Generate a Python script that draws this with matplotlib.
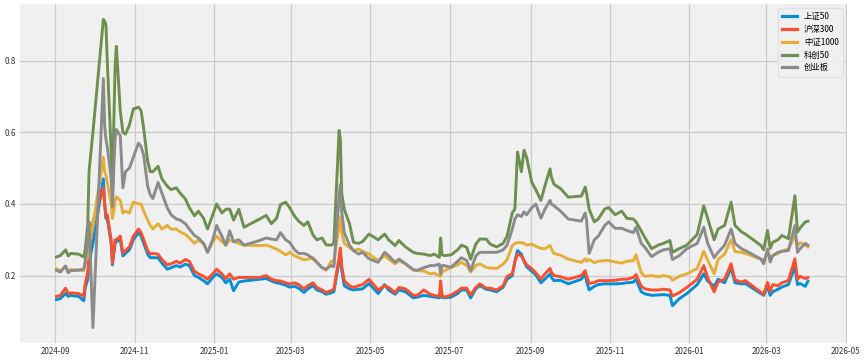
import matplotlib
matplotlib.use("Agg")
import matplotlib.pyplot as plt
import matplotlib.dates as mdates
from matplotlib.ticker import MultipleLocator
import pandas as pd

dates = [
    "2024-09-02", "2024-09-05", "2024-09-09", "2024-09-11", "2024-09-13", "2024-09-19", "2024-09-23", "2024-09-24", "2024-09-26", "2024-09-27", "2024-09-30",
    "2024-10-08", "2024-10-09", "2024-10-10", "2024-10-11", "2024-10-14", "2024-10-15", "2024-10-16", "2024-10-17", "2024-10-18", "2024-10-21", "2024-10-23", "2024-10-25", "2024-10-28", "2024-10-31",
    "2024-11-04", "2024-11-06", "2024-11-08", "2024-11-11", "2024-11-13", "2024-11-15", "2024-11-19", "2024-11-22", "2024-11-26", "2024-11-29",
    "2024-12-03", "2024-12-06", "2024-12-10", "2024-12-13", "2024-12-17", "2024-12-20", "2024-12-24", "2024-12-27", "2024-12-31",
    "2025-01-03", "2025-01-07", "2025-01-10", "2025-01-13", "2025-01-16", "2025-01-20", "2025-01-24",
    "2025-02-05", "2025-02-10", "2025-02-14", "2025-02-18", "2025-02-21", "2025-02-25", "2025-02-28",
    "2025-03-04", "2025-03-07", "2025-03-11", "2025-03-14", "2025-03-18", "2025-03-21", "2025-03-25", "2025-03-28",
    "2025-04-01", "2025-04-03", "2025-04-07", "2025-04-08", "2025-04-09", "2025-04-11", "2025-04-15", "2025-04-18", "2025-04-22", "2025-04-25", "2025-04-30",
    "2025-05-07", "2025-05-12", "2025-05-15", "2025-05-20", "2025-05-23", "2025-05-28",
    "2025-06-03", "2025-06-06", "2025-06-11", "2025-06-16", "2025-06-19", "2025-06-23", "2025-06-24", "2025-06-25", "2025-06-27",
    "2025-07-02", "2025-07-07", "2025-07-10", "2025-07-14", "2025-07-17", "2025-07-21", "2025-07-24", "2025-07-29",
    "2025-08-01", "2025-08-06", "2025-08-11", "2025-08-14", "2025-08-18", "2025-08-20", "2025-08-22", "2025-08-25", "2025-08-27", "2025-08-29",
    "2025-09-02", "2025-09-05", "2025-09-09", "2025-09-12", "2025-09-16", "2025-09-17", "2025-09-19", "2025-09-24", "2025-09-30",
    "2025-10-10", "2025-10-13", "2025-10-14", "2025-10-16", "2025-10-20", "2025-10-23", "2025-10-28", "2025-10-31",
    "2025-11-05", "2025-11-10", "2025-11-14", "2025-11-19", "2025-11-21", "2025-11-25", "2025-11-28",
    "2025-12-03", "2025-12-08", "2025-12-12", "2025-12-17", "2025-12-19", "2025-12-24", "2025-12-30",
    "2026-01-07", "2026-01-12", "2026-01-15", "2026-01-20", "2026-01-23", "2026-01-28",
    "2026-02-02", "2026-02-05", "2026-02-10", "2026-02-13", "2026-02-25", "2026-02-27",
    "2026-03-02", "2026-03-04", "2026-03-06", "2026-03-10", "2026-03-13", "2026-03-18", "2026-03-23", "2026-03-25", "2026-03-27", "2026-03-31",
    "2026-04-02",
]

sz50 = [
    .133, .136, .150, .142, .145, .142, .130, .165, .19, .235, .29,
    .47, .40, .36, .36, .29, .23, .26, .29, .295, .30, .255, .262, .272, .30,
    .32, .31, .29, .26, .25, .25, .25, .235, .218, .222,
    .228, .224, .232, .228, .20, .195, .186, .177, .195,
    .205, .195, .18, .19, .158, .182, .185,
    .19, .192, .185, .18, .178, .173, .168,
    .17, .165, .153, .163, .172, .16, .155, .148,
    .152, .155, .24, .265, .215, .172, .163, .16, .162, .163, .178,
    .15, .175, .16, .148, .16, .155,
    .138, .14, .145, .142, .14, .138, .142, .14, .138,
    .14, .15, .16, .16, .138, .163, .172, .162,
    .16, .155, .168, .19, .20, .24, .27, .26, .24, .225,
    .212, .202, .18, .19, .205, .195, .186, .187, .177,
    .19, .205, .185, .16, .17, .175, .177, .177,
    .177, .178, .18, .182, .19, .155, .149,
    .145, .146, .147, .145, .116, .135, .15,
    .175, .205, .185, .17, .19, .18,
    .222, .18, .177, .178, .15, .145,
    .17, .145, .155, .162, .168, .175, .225, .175, .178, .17,
    .185,
]

hs300 = [
    .142, .145, .165, .150, .152, .150, .143, .175, .21, .26, .35,
    .445, .40, .365, .37, .30, .235, .27, .30, .30, .31, .263, .27, .28, .31,
    .33, .32, .30, .27, .26, .262, .26, .245, .23, .233,
    .24, .235, .245, .24, .212, .205, .198, .19, .205,
    .218, .205, .192, .205, .19, .195, .195,
    .195, .20, .19, .186, .185, .18, .177,
    .18, .175, .163, .172, .18, .167, .16, .153,
    .158, .163, .25, .277, .228, .185, .172, .167, .172, .175, .19,
    .16, .172, .167, .153, .167, .163,
    .145, .145, .16, .148, .145, .142, .185, .145, .14,
    .146, .157, .165, .165, .146, .167, .177, .165,
    .165, .16, .172, .198, .205, .238, .26, .255, .242, .23,
    .219, .208, .19, .205, .22, .21, .20, .197, .19,
    .20, .214, .20, .178, .181, .186, .186, .186,
    .187, .19, .19, .195, .203, .17, .163,
    .16, .16, .162, .16, .143, .152, .167,
    .19, .228, .195, .155, .182, .19,
    .233, .188, .182, .186, .153, .148,
    .181, .155, .175, .172, .18, .186, .247, .19, .198, .192,
    .195,
]

zz1000 = [
    .219, .214, .226, .210, .217, .216, .214, .240, .25, .28, .34,
    .53, .49, .48, .46, .40, .36, .38, .41, .42, .41, .375, .38, .375, .405,
    .40, .40, .38, .355, .34, .33, .345, .33, .34, .33,
    .33, .322, .315, .305, .29, .30, .288, .265, .295,
    .31, .295, .285, .30, .295, .29, .285,
    .284, .285, .28, .274, .268, .258, .265,
    .255, .25, .244, .246, .25, .237, .222, .215,
    .24, .238, .34, .365, .32, .29, .278, .27, .274, .268, .26,
    .242, .256, .246, .233, .242, .233,
    .215, .214, .213, .205, .207, .20, .198, .21, .214,
    .223, .23, .237, .228, .21, .228, .233, .223,
    .221, .22, .232, .245, .284, .29, .292, .292, .29, .285,
    .288, .282, .276, .275, .284, .275, .262, .257, .246,
    .237, .247, .24, .245, .236, .24, .242, .242,
    .238, .235, .24, .242, .258, .208, .198,
    .20, .197, .20, .197, .187, .198, .205,
    .22, .268, .243, .205, .245, .26,
    .30, .267, .265, .262, .246, .238,
    .265, .252, .256, .262, .268, .274, .31, .284, .292, .285,
    .28,
]

kc50 = [
    .252, .256, .272, .255, .262, .260, .252, .270, .34, .49, .60,
    .915, .91, .90, .80, .55, .42, .62, .78, .84, .66, .60, .595, .62, .665,
    .67, .66, .61, .52, .49, .49, .505, .47, .45, .44,
    .445, .43, .414, .39, .367, .38, .36, .33, .37,
    .40, .375, .385, .386, .355, .385, .335,
    .358, .368, .345, .36, .398, .405, .39,
    .365, .352, .34, .35, .313, .30, .305, .286,
    .285, .29, .605, .58, .43, .385, .345, .293, .29, .295, .316,
    .30, .316, .30, .284, .298, .28,
    .265, .262, .26, .256, .26, .251, .305, .258, .256,
    .258, .272, .285, .279, .246, .288, .302, .302,
    .288, .28, .29, .31, .375, .386, .545, .49, .55, .53,
    .46, .44, .41, .45, .498, .475, .455, .443, .419,
    .422, .447, .43, .385, .35, .358, .386, .39,
    .37, .38, .36, .358, .35, .325, .305,
    .275, .285, .29, .298, .265, .275, .285,
    .315, .395, .36, .30, .33, .34,
    .405, .34, .322, .316, .284, .272,
    .326, .276, .293, .30, .312, .303, .423, .322, .333, .35,
    .352,
]

cyb = [
    .215, .210, .227, .208, .214, .215, .218, .235, .30, .35, .055,
    .75, .62, .58, .56, .47, .393, .50, .58, .608, .59, .445, .49, .50, .53,
    .57, .56, .535, .45, .425, .415, .46, .43, .39, .37,
    .358, .355, .345, .33, .312, .305, .29, .265, .30,
    .34, .31, .285, .325, .295, .30, .285,
    .298, .305, .302, .30, .32, .30, .293,
    .272, .262, .262, .258, .247, .237, .222, .218,
    .228, .225, .42, .455, .38, .32, .285, .27, .26, .265, .247,
    .237, .265, .256, .237, .246, .233,
    .217, .215, .222, .228, .228, .232, .205, .228, .228,
    .223, .24, .25, .242, .214, .255, .265, .265,
    .265, .265, .272, .285, .33, .358, .37, .365, .378, .37,
    .39, .40, .36, .385, .41, .40, .395, .38, .358,
    .352, .375, .355, .262, .30, .31, .34, .35,
    .332, .332, .326, .32, .335, .29, .278,
    .253, .265, .272, .275, .245, .255, .275,
    .29, .335, .29, .25, .265, .285,
    .33, .29, .275, .27, .246, .233,
    .274, .238, .256, .265, .268, .27, .34, .265, .275, .29,
    .285,
]

labels = ["上证50", "沪深300", "中证1000", "科创50", "创业板"]
colors = ["#008fd5", "#fc4f30", "#e5ae38", "#6d904f", "#8b8b8b"]
x_range = ["2024-08-05", "2026-05-02"]

x = pd.to_datetime(dates)
series = [sz50, hs300, zz1000, kc50, cyb]

plt.rcParams['font.family'] = ['Noto Sans CJK SC', 'DejaVu Sans']

fig = plt.figure(figsize=(8.65, 3.6), dpi=100, facecolor="white")
ax = fig.add_axes([20 / 865, 17 / 360, 827 / 865, 339 / 360])
ax.set_facecolor("#f0f0f0")
for s in ax.spines.values():
    s.set_visible(False)

for vals, lab, col in zip(series, labels, colors):
    ax.plot(x, vals, color=col, lw=2.1, label=lab)

ax.set_xlim(pd.to_datetime(x_range[0]), pd.to_datetime(x_range[1]))
ax.grid(True, color="#cbcbcb", lw=0.9)
ax.set_axisbelow(True)
ax.xaxis.set_major_locator(mdates.MonthLocator(bymonth=[1, 3, 5, 7, 9, 11]))
ax.xaxis.set_major_formatter(mdates.DateFormatter("%Y-%m"))
ax.yaxis.set_major_locator(MultipleLocator(0.2))
ax.tick_params(axis="both", length=0, labelsize=5.8, colors="#333333", pad=3)

leg = ax.legend(loc="upper right", fontsize=6, handlelength=1.8, labelspacing=0.45,
                frameon=True, facecolor="#f0f0f0", edgecolor="#e0e0e0", framealpha=0.9,
                borderpad=0.5)
for l in leg.get_lines():
    l.set_linewidth(2.3)

fig.savefig("out.png", dpi=100, facecolor="white")
